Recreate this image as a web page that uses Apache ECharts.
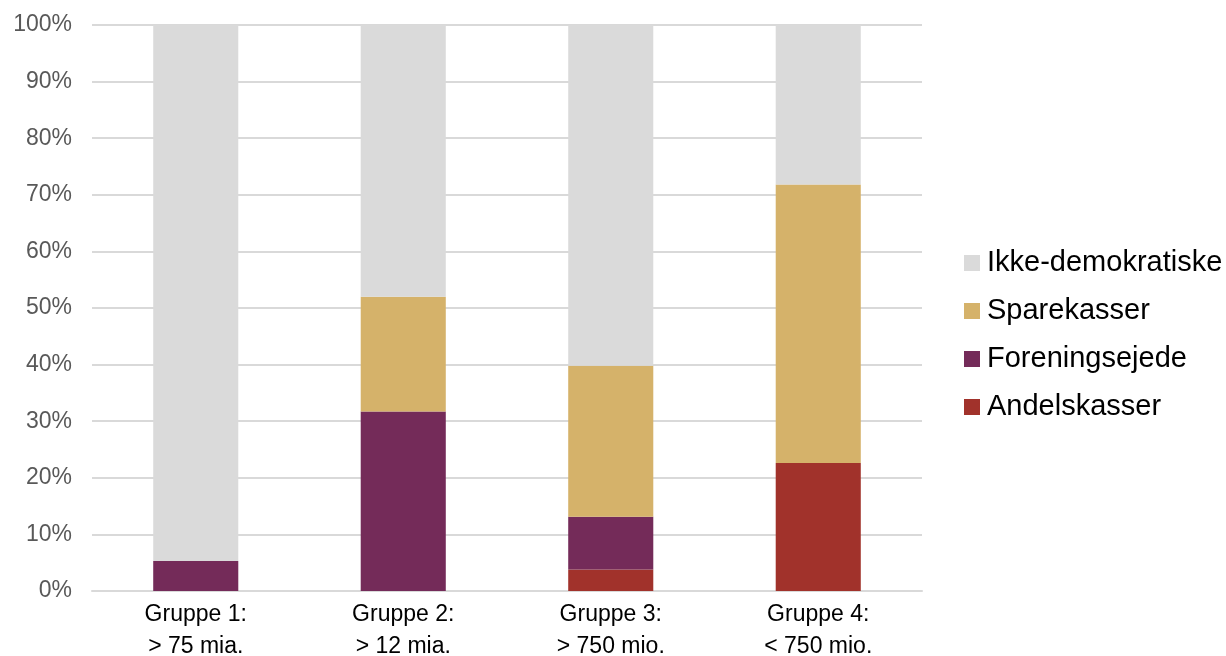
<!DOCTYPE html>
<html>
<head>
<meta charset="utf-8">
<script src="https://cdn.jsdelivr.net/npm/echarts@6/dist/echarts.min.js"></script>
<style>html,body{margin:0;padding:0;background:#fff}#c{width:1226px;height:656px}</style>
</head>
<body>
<div id="c"></div>
<script>
const categories = ['Gruppe 1:\n> 75 mia.', 'Gruppe 2:\n> 12 mia.', 'Gruppe 3:\n> 750 mio.', 'Gruppe 4:\n< 750 mio.'];
const andelskasser = [0, 0, 3.8, 22.6];
const foreningsejede = [5.3, 31.7, 9.3, 0];
const sparekasser = [0, 20.3, 26.7, 49.2];
const ikkeDemokratiske = [94.7, 48.0, 60.2, 28.2];
const yTicks = [0, 10, 20, 30, 40, 50, 60, 70, 80, 90, 100];

const font = '"Liberation Sans", Arial, sans-serif';
const chart = echarts.init(document.getElementById('c'), null, {renderer: 'canvas'});
function bar(name, data, color) {
  return {name, type: 'bar', stack: 'total', data, barWidth: '41%',
    itemStyle: {color}, emphasis: {disabled: true}};
}
chart.setOption({
  animation: false,
  grid: {left: 92, right: 304, top: 25, bottom: 65, containLabel: false, outerBoundsMode: 'none'},
  legend: {
    orient: 'vertical', left: 959, top: 243,
    data: ['Ikke-demokratiske', 'Sparekasser', 'Foreningsejede', 'Andelskasser'],
    itemWidth: 16, itemHeight: 16, itemGap: 18, icon: 'rect',
    textStyle: {fontFamily: font, fontSize: 29, color: '#000', lineHeight: 30, padding: [0, 0, 0, 2]}
  },
  xAxis: {
    type: 'category', data: categories,
    axisLine: {lineStyle: {color: '#D9D9D9', width: 2}},
    axisTick: {show: false},
    axisLabel: {fontFamily: font, fontSize: 23, color: '#000', lineHeight: 32, margin: 8}
  },
  yAxis: {
    type: 'value', min: 0, max: 100, interval: 10,
    axisLine: {show: false}, axisTick: {show: false},
    splitLine: {lineStyle: {color: '#D9D9D9', width: 2}},
    axisLabel: {fontFamily: font, fontSize: 23, color: '#595959', margin: 20,
      formatter: v => yTicks.includes(v) ? v + '%' : ''}
  },
  series: [
    bar('Andelskasser', andelskasser, '#A1322B'),
    bar('Foreningsejede', foreningsejede, '#742B59'),
    bar('Sparekasser', sparekasser, '#D5B26A'),
    bar('Ikke-demokratiske', ikkeDemokratiske, '#DADADA')
  ]
});
</script>
</body>
</html>
